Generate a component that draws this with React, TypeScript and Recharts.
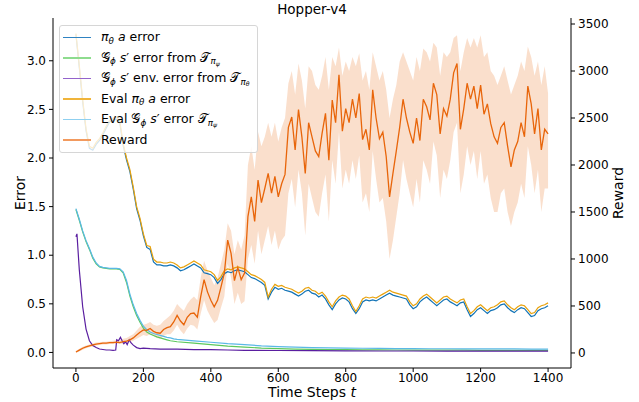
import { ComposedChart, Line, Area, XAxis, YAxis } from 'recharts';

// sampled every 10 steps, 0..1400
const steps = Array.from({ length: 141 }, (_, i) => i * 10);

const evalActErr = [
  3.28, 2.95, 2.6, 2.3, 2.12, 2.1, 2.16, 2.2, 2.26, 2.33,
  2.39, 2.41, 2.42, 2.38, 2.15, 2.0, 1.88, 1.7, 1.5, 1.38,
  1.22, 1.1, 1.09, 0.96, 0.93, 0.93, 0.92, 0.92, 0.93, 0.92,
  0.9, 0.87, 0.88, 0.9, 0.92, 0.94, 0.92, 0.9, 0.85, 0.84,
  0.83, 0.8, 0.74, 0.78, 0.84, 0.86, 0.85, 0.87, 0.88, 0.87,
  0.86, 0.83, 0.8, 0.79, 0.77, 0.75, 0.72, 0.57, 0.65, 0.7,
  0.68, 0.69, 0.67, 0.66, 0.65, 0.63, 0.61, 0.63, 0.66, 0.67,
  0.64, 0.63, 0.6, 0.62, 0.58, 0.52, 0.47, 0.53, 0.57, 0.59,
  0.58, 0.55, 0.48, 0.42, 0.48, 0.55, 0.57, 0.56, 0.57, 0.56,
  0.58, 0.6, 0.62, 0.64, 0.62, 0.61, 0.6, 0.59, 0.58, 0.52,
  0.48, 0.5, 0.55, 0.58, 0.6, 0.57, 0.54, 0.51, 0.54, 0.57,
  0.58, 0.55, 0.53, 0.51, 0.54, 0.55, 0.47, 0.4, 0.43, 0.47,
  0.49, 0.46, 0.43, 0.46, 0.47, 0.49, 0.52, 0.53, 0.49, 0.46,
  0.44, 0.47, 0.49, 0.48, 0.44, 0.4, 0.41, 0.46, 0.48, 0.49,
  0.51,
];

const actErr = [
  3.27, 2.93, 2.58, 2.28, 2.1, 2.08, 2.14, 2.18, 2.24, 2.31,
  2.37, 2.39, 2.4, 2.36, 2.13, 1.98, 1.86, 1.68, 1.48, 1.36,
  1.2, 1.08, 1.06, 0.93, 0.9, 0.9, 0.89, 0.89, 0.9, 0.89,
  0.87, 0.84, 0.85, 0.87, 0.89, 0.91, 0.89, 0.87, 0.82, 0.81,
  0.8, 0.77, 0.71, 0.75, 0.81, 0.83, 0.82, 0.84, 0.85, 0.84,
  0.83, 0.8, 0.77, 0.76, 0.74, 0.72, 0.69, 0.55, 0.62, 0.67,
  0.65, 0.66, 0.64, 0.63, 0.62, 0.6, 0.58, 0.6, 0.63, 0.64,
  0.61, 0.6, 0.57, 0.59, 0.55, 0.49, 0.44, 0.5, 0.54, 0.56,
  0.55, 0.52, 0.45, 0.4, 0.45, 0.52, 0.54, 0.53, 0.54, 0.53,
  0.55, 0.57, 0.59, 0.61, 0.59, 0.58, 0.57, 0.56, 0.55, 0.49,
  0.45, 0.47, 0.52, 0.55, 0.57, 0.54, 0.51, 0.48, 0.51, 0.54,
  0.55, 0.52, 0.5, 0.48, 0.51, 0.52, 0.44, 0.37, 0.4, 0.44,
  0.46, 0.43, 0.4, 0.43, 0.44, 0.46, 0.49, 0.5, 0.46, 0.43,
  0.41, 0.44, 0.46, 0.45, 0.41, 0.37, 0.38, 0.43, 0.45, 0.46,
  0.48,
];

const rewardMean = [
  10, 30, 50, 65, 75, 85, 95, 100, 105, 105,
  110, 110, 115, 110, 120, 125, 140, 160, 190, 220,
  245, 240, 260, 230, 215, 210, 250, 270, 280, 330,
  400, 340, 300, 380, 420, 425, 380, 600, 780, 650,
  560, 490, 560, 700, 850, 1200, 1060, 770, 910, 780,
  850, 1450, 1660, 1400, 1840, 1600, 1750, 1910, 1700, 1880,
  1660, 1800, 1900, 2400, 2510, 2160, 2590, 2300, 1910, 2450,
  2300, 2150, 2090, 2340, 2550, 2050, 2690, 2450, 2960, 2360,
  2600, 2450, 2700, 2500, 2760, 2270, 2380, 2160, 2800, 2500,
  2280, 2350, 2090, 1660, 1910, 2150, 2400, 2700, 2500, 2350,
  2230, 2500, 2260, 2700, 2620, 2480, 2870, 2750, 2330, 2600,
  2520, 2700, 2980, 3080, 2380, 2600, 2870, 2700, 2840, 2600,
  2850, 2540, 2650, 2440, 2300, 2230, 2400, 2450, 2200, 1980,
  2160, 2250, 2450, 2300, 2840, 2650, 2330, 2600, 2160, 2380,
  2330,
];

const rewardHi = [
  20, 45, 65, 80, 90, 100, 110, 115, 120, 120,
  125, 130, 135, 130, 150, 160, 180, 200, 240, 280,
  300, 310, 330, 300, 290, 300, 340, 370, 400, 450,
  520, 480, 450, 520, 570, 600, 560, 800, 980, 880,
  800, 720, 800, 950, 1100, 1380, 1300, 1050, 1200, 1100,
  1250, 2000, 2200, 1950, 2350, 2200, 2300, 2450, 2300, 2450,
  2250, 2400, 2500, 2870, 3000, 2750, 3080, 2900, 2600, 3050,
  3000, 2850, 2800, 2950, 3150, 2800, 3150, 3050, 3250, 2950,
  3100, 3000, 3150, 3050, 3190, 2900, 3000, 2800, 3200, 3050,
  2900, 3000, 2800, 2500, 2700, 2850, 3100, 3200, 3100, 3000,
  2900, 3150, 3000, 3240, 3200, 3100, 3300, 3250, 2950, 3200,
  3150, 3200, 3350, 3380, 3000, 3200, 3350, 3250, 3350, 3250,
  3380, 3150, 3200, 3000, 2950, 2850, 2950, 3050, 2900, 2750,
  2850, 2950, 3100, 3000, 3260, 3150, 2950, 3100, 2850, 3050,
  2760,
];

const rewardLo = [
  0, 15, 35, 50, 60, 70, 80, 85, 90, 90,
  95, 95, 100, 95, 100, 105, 115, 130, 150, 170,
  190, 180, 200, 180, 160, 150, 180, 200, 200, 240,
  300, 240, 200, 260, 300, 290, 250, 420, 560, 450,
  380, 320, 350, 480, 600, 950, 800, 520, 640, 520,
  550, 1000, 1150, 950, 1300, 1050, 1200, 1350, 1150, 1300,
  1100, 1200, 1250, 1700, 1850, 1550, 1950, 1700, 1250, 1800,
  1650, 1500, 1450, 1700, 1900, 1400, 2050, 1800, 2350, 1750,
  1950, 1800, 2050, 1850, 2100, 1600, 1700, 1500, 2150, 1850,
  1600, 1650, 1400, 1000, 1200, 1450, 1700, 2050, 1850, 1700,
  1550, 1850, 1600, 2050, 1950, 1800, 2250, 2100, 1650, 1950,
  1850, 2050, 2350, 2450, 1700, 1900, 2200, 2000, 2150, 1850,
  2150, 1800, 1900, 1650, 1500, 1500, 1700, 1750, 1500, 1350,
  1500, 1600, 1800, 1650, 2200, 2000, 1700, 1950, 1500, 1750,
  1750,
];

// smoother model-error curves
const modelSteps = [
  0, 10, 20, 30, 40, 50, 60, 70, 80, 90, 100, 110, 120, 130, 140, 150,
  160, 170, 180, 190, 200, 210, 220, 230, 240, 250, 260, 270, 280, 290, 300,
  350, 400, 450, 500, 550, 600, 650, 700, 750, 800, 850, 900, 950, 1000,
  1050, 1100, 1150, 1200, 1250, 1300, 1350, 1400,
];
const modelErr = [
  1.47, 1.36, 1.24, 1.14, 1.06, 0.97, 0.91, 0.88, 0.87, 0.865, 0.86, 0.86, 0.86, 0.855, 0.82, 0.72,
  0.58, 0.47, 0.38, 0.31, 0.25, 0.21, 0.19, 0.175, 0.16, 0.15, 0.14, 0.13, 0.12, 0.115, 0.11,
  0.095, 0.08, 0.065, 0.055, 0.045, 0.04, 0.035, 0.032, 0.03, 0.028, 0.027, 0.026, 0.025, 0.024,
  0.024, 0.023, 0.023, 0.022, 0.022, 0.022, 0.021, 0.021,
];
const evalModelErr = [
  1.48, 1.37, 1.25, 1.15, 1.07, 0.98, 0.92, 0.885, 0.875, 0.87, 0.865, 0.865, 0.865, 0.86, 0.83, 0.74,
  0.6, 0.49, 0.4, 0.33, 0.27, 0.235, 0.21, 0.195, 0.185, 0.175, 0.165, 0.155, 0.15, 0.14, 0.135,
  0.12, 0.105, 0.09, 0.08, 0.068, 0.06, 0.055, 0.05, 0.047, 0.045, 0.043, 0.042, 0.04, 0.04,
  0.038, 0.038, 0.037, 0.037, 0.036, 0.036, 0.035, 0.035,
];

const envSteps = [
  0, 3, 10, 20, 30, 40, 50, 60, 70, 80, 90, 100, 110, 118, 121, 126, 132, 137, 142,
  147, 152, 158, 163, 170, 180, 190, 200, 220, 250, 300, 350, 400, 450, 500, 600,
  700, 800, 900, 1000, 1100, 1200, 1300, 1400,
];
const envErr = [
  1.19, 1.22, 0.85, 0.47, 0.24, 0.12, 0.07, 0.05, 0.035, 0.03, 0.025, 0.025, 0.022, 0.025, 0.13, 0.12, 0.155, 0.12, 0.09,
  0.11, 0.08, 0.13, 0.1, 0.075, 0.05, 0.04, 0.045, 0.04, 0.035, 0.035, 0.03, 0.03, 0.025, 0.022, 0.02,
  0.018, 0.016, 0.015, 0.015, 0.014, 0.014, 0.013, 0.013,
];

const xTicks = [0, 200, 400, 600, 800, 1000, 1200, 1400];
const errTicks = [0, 0.5, 1, 1.5, 2, 2.5, 3];
const rewardTicks = [0, 500, 1000, 1500, 2000, 2500, 3000, 3500];

const mainData = steps.map((t, i) => ({
  t,
  act: actErr[i],
  evalAct: evalActErr[i],
  reward: rewardMean[i],
  band: [rewardLo[i], rewardHi[i]],
}));
const modelData = modelSteps.map((t, i) => ({ t, model: modelErr[i], evalModel: evalModelErr[i] }));
const envData = envSteps.map((t, i) => ({ t, env: envErr[i] }));

const FONT = 'DejaVu Sans';
const tickStyle = { fontSize: 12, fill: '#000', fontFamily: FONT };

const I = ({ children }: { children: any }) => <span style={{ fontStyle: 'italic' }}>{children}</span>;
const Sub = ({ children }: { children: any }) => (
  <span style={{ fontSize: '0.7em', position: 'relative', top: '0.3em' }}>{children}</span>
);

const legendItems = [
  { color: '#2f83c2', label: <><I>π</I><Sub><I>θ</I></Sub> <I>a</I> error</> },
  { color: '#8edc8e', label: <>𝒢<Sub><I>ϕ</I></Sub> <I>s</I>′ error from 𝒯<Sub><I>π</I><Sub><I>ψ</I></Sub></Sub></> },
  { color: '#9463cc', label: <>𝒢<Sub><I>ϕ</I></Sub> <I>s</I>′ env. error from 𝒯<Sub><I>π</I><Sub><I>θ</I></Sub></Sub></> },
  { color: '#f0b43a', label: <>Eval <I>π</I><Sub><I>θ</I></Sub> <I>a</I> error</> },
  { color: '#8fd0f0', label: <>Eval 𝒢<Sub><I>ϕ</I></Sub> <I>s</I>′ error 𝒯<Sub><I>π</I><Sub><I>ψ</I></Sub></Sub></> },
  { color: '#f29a5e', label: <>Reward</> },
];

export default function App() {
  return (
    <div style={{ position: 'absolute', left: 0, top: 0, width: 639, height: 402, fontFamily: FONT, background: '#fff' }}>
      <ComposedChart width={639} height={402} data={mainData} margin={{ top: 18, right: 0, bottom: 0, left: 0 }}>
        <XAxis
          dataKey="t" type="number" domain={[-68, 1468]} ticks={xTicks} height={34} allowDataOverflow
          tick={tickStyle} tickSize={4} tickMargin={1} tickLine={{ stroke: '#000' }} axisLine={{ stroke: '#000' }}
        />
        <XAxis
          xAxisId="top" orientation="top" type="number" domain={[-68, 1468]} height={0}
          tick={false} tickLine={false} axisLine={{ stroke: '#000' }}
        />
        <YAxis
          yAxisId="e" orientation="left" width={53} type="number" domain={[-0.16, 3.44]} ticks={errTicks}
          allowDataOverflow tickFormatter={(v: number) => v.toFixed(1)}
          tick={tickStyle} tickSize={4} tickMargin={3} tickLine={{ stroke: '#000' }} axisLine={{ stroke: '#000' }}
        />
        <YAxis
          yAxisId="r" orientation="right" width={68} type="number" domain={[-160, 3564]} ticks={rewardTicks}
          allowDataOverflow
          tick={tickStyle} tickSize={4} tickMargin={3} tickLine={{ stroke: '#000' }} axisLine={{ stroke: '#000' }}
        />

        <Line yAxisId="e" dataKey="act" stroke="#1273b6" strokeWidth={1.2} dot={false} activeDot={false} isAnimationActive={false} />
        <Line yAxisId="e" data={modelData} dataKey="model" stroke="#5cc85c" strokeWidth={1.2} dot={false} activeDot={false} isAnimationActive={false} />
        <Line yAxisId="e" data={envData} dataKey="env" stroke="#5a1ea0" strokeWidth={1.2} dot={false} activeDot={false} isAnimationActive={false} />
        <Line yAxisId="e" dataKey="evalAct" stroke="#e9a20c" strokeWidth={1.2} dot={false} activeDot={false} isAnimationActive={false} />
        <Line yAxisId="e" data={modelData} dataKey="evalModel" stroke="#5ab8e6" strokeWidth={1.2} dot={false} activeDot={false} isAnimationActive={false} />

        <Area yAxisId="r" dataKey="band" stroke="none" fill="#e66100" fillOpacity={0.2} isAnimationActive={false} activeDot={false} />
        <Line yAxisId="r" dataKey="reward" stroke="#e8650a" strokeWidth={1.3} dot={false} activeDot={false} isAnimationActive={false} />

        <text x={312} y={14} textAnchor="middle" fontSize={13.5} fontFamily={FONT} fill="#000">Hopper-v4</text>
        <text x={312} y={397} textAnchor="middle" fontSize={14} fontFamily={FONT} fill="#000">
          Time Steps <tspan fontStyle="italic">t</tspan>
        </text>
        <text x={20} y={193} transform="rotate(-90 20 193)" textAnchor="middle" dominantBaseline="central" fontSize={14} fontFamily={FONT} fill="#000">Error</text>
        <text x={618} y={193} transform="rotate(-90 618 193)" textAnchor="middle" dominantBaseline="central" fontSize={14} fontFamily={FONT} fill="#000">Reward</text>
      </ComposedChart>

      <div
        style={{
          position: 'absolute', left: 59, top: 25, width: 197, height: 125, paddingTop: 1,
          border: '1px solid #d6d6d6', borderRadius: 3, background: 'rgba(255,255,255,0.8)',
          fontSize: 12.5, color: '#000', lineHeight: 1,
        }}
      >
        {legendItems.map((it, i) => (
          <div key={i} style={{ height: 20.5, display: 'flex', alignItems: 'center', whiteSpace: 'nowrap' }}>
            <span style={{ display: 'inline-block', width: 28, height: 1.5, background: it.color, marginLeft: 3, marginRight: 10 }} />
            <span>{it.label}</span>
          </div>
        ))}
      </div>
    </div>
  );
}
